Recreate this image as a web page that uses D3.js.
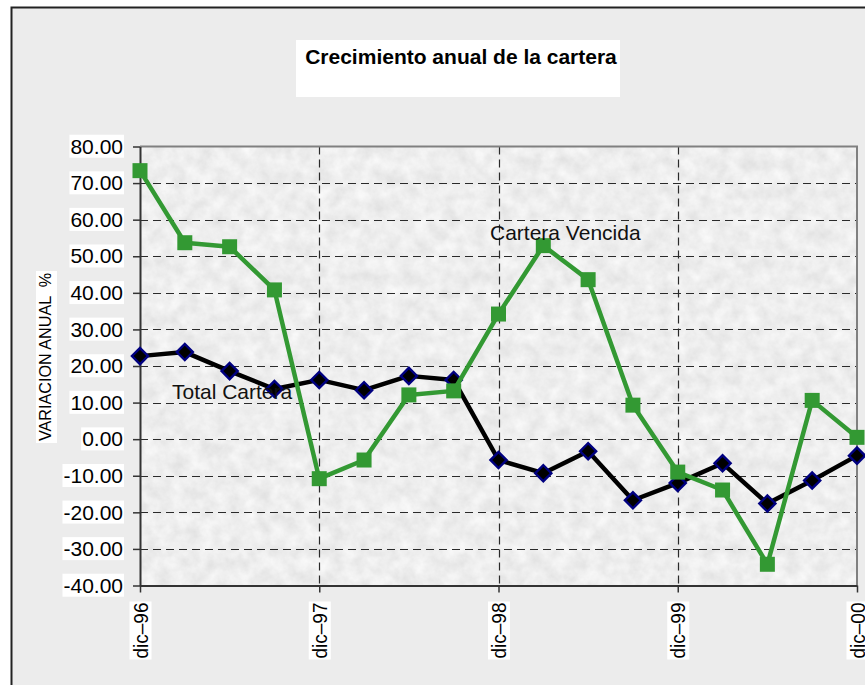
<!DOCTYPE html>
<html>
<head>
<meta charset="utf-8">
<script src="https://d3js.org/d3.v7.min.js"></script>
<style>
  body { margin: 0; background: #fff; }
  svg { display: block; font-family: "Liberation Sans", Arial, sans-serif; }
</style>
</head>
<body>
<svg width="865" height="685"></svg>
<script>
// trimestres, de dic-96 a dic-00
var periods = ["dic-96", "mar-97", "jun-97", "sep-97", "dic-97", "mar-98", "jun-98", "sep-98",
  "dic-98", "mar-99", "jun-99", "sep-99", "dic-99", "mar-00", "jun-00", "sep-00", "dic-00"];

// variacion anual %
var totalCartera = [22.7, 23.8, 18.6, 13.7, 16.2, 13.4, 17.3, 16.2, -5.7, -9.3, -3.3, -16.7, -12.0, -6.6, -17.6, -11.3, -4.5];
var carteraVencida = [73.4, 53.7, 52.6, 40.8, -10.8, -5.7, 12.1, 13.2, 34.2, 52.9, 43.6, 9.3, -9.0, -13.9, -34.2, 10.6, 0.5];

var yTicks = [80, 70, 60, 50, 40, 30, 20, 10, 0, -10, -20, -30, -40];

var seriesLabels = ["Total Cartera", "Cartera Vencida"];

// area of the plot
var plot = { left: 140, right: 857, top: 146.5, bottom: 585.5 };

var svg = d3.select("svg");

var x = d3.scaleLinear()
  .domain([0, periods.length - 1])
  .range([plot.left, plot.right]);

var y = d3.scaleLinear()
  .domain([-40, 80])
  .range([plot.bottom, plot.top]);

// marble texture for the plot background
var defs = svg.append("defs");
var filter = defs.append("filter")
  .attr("id", "marble")
  .attr("x", 0).attr("y", 0).attr("width", 1).attr("height", 1);
filter.append("feTurbulence")
  .attr("type", "fractalNoise")
  .attr("baseFrequency", 0.07)
  .attr("numOctaves", 4)
  .attr("seed", 7)
  .attr("result", "noise");
filter.append("feColorMatrix")
  .attr("in", "noise")
  .attr("type", "matrix")
  .attr("values", "0.25 0 0 0 0.73  0.25 0 0 0 0.73  0.25 0 0 0 0.73  0 0 0 0 1");

// outer frame
svg.append("rect")
  .attr("x", 11.5).attr("y", 7.5)
  .attr("width", 870).attr("height", 690)
  .attr("fill", "#ececec")
  .attr("stroke", "#222")
  .attr("stroke-width", 2);

// title
svg.append("rect")
  .attr("x", 296).attr("y", 40)
  .attr("width", 324).attr("height", 57)
  .attr("fill", "#fff");
svg.append("text")
  .attr("x", 461).attr("y", 64)
  .attr("text-anchor", "middle")
  .style("font-size", "21px")
  .style("font-weight", "bold")
  .text("Crecimiento anual de la cartera");

// plot background
svg.append("rect")
  .attr("x", plot.left).attr("y", plot.top)
  .attr("width", plot.right - plot.left)
  .attr("height", plot.bottom - plot.top)
  .attr("fill", "#dadada")
  .attr("filter", "url(#marble)");

// grid
var grid = svg.append("g")
  .attr("stroke", "#2a2a2a")
  .attr("stroke-width", 1.2)
  .attr("stroke-dasharray", "8,5");

grid.selectAll("line.h")
  .data(yTicks.filter(function (d) { return d > -40 && d < 80; }))
  .enter().append("line")
  .attr("x1", plot.left).attr("x2", plot.right)
  .attr("y1", function (d) { return Math.round(y(d)) + 0.5; })
  .attr("y2", function (d) { return Math.round(y(d)) + 0.5; });

var dicIdx = periods.map(function (p, i) { return i; })
  .filter(function (i) { return periods[i].indexOf("dic") === 0; });

grid.selectAll("line.v")
  .data(dicIdx.slice(1, -1))
  .enter().append("line")
  .attr("y1", plot.top).attr("y2", plot.bottom)
  .attr("x1", function (d) { return Math.round(x(d)) + 0.5; })
  .attr("x2", function (d) { return Math.round(x(d)) + 0.5; });

// top and right border
svg.append("path")
  .attr("d", "M" + plot.left + "," + plot.top + "H" + plot.right + "V" + plot.bottom)
  .attr("fill", "none")
  .attr("stroke", "#808080")
  .attr("stroke-width", 2);

// y axis
var yAxis = svg.append("g")
  .attr("transform", "translate(" + plot.left + ",0)")
  .call(d3.axisLeft(y)
    .tickValues(yTicks)
    .tickSize(7)
    .tickSizeOuter(0)
    .tickPadding(10)
    .tickFormat(function (d) { return d.toFixed(2); }));

yAxis.select(".domain").attr("stroke", "#333").attr("stroke-width", 2);
yAxis.selectAll(".tick line").attr("stroke", "#333").attr("stroke-width", 1.5);
yAxis.selectAll(".tick text")
  .attr("fill", "#000")
  .style("font-size", "21px")
  .style("font-family", "Liberation Sans, Arial, sans-serif");

// x axis
var xAxis = svg.append("g")
  .attr("transform", "translate(0," + plot.bottom + ")")
  .call(d3.axisBottom(x)
    .tickValues(dicIdx)
    .tickSize(7)
    .tickSizeOuter(0)
    .tickFormat(function (i) { return periods[i].replace("-", "\u2013"); }));

xAxis.select(".domain").attr("stroke", "#333").attr("stroke-width", 2);
xAxis.selectAll(".tick line").attr("stroke", "#333").attr("stroke-width", 1.5);
xAxis.selectAll(".tick text")
  .attr("fill", "#000")
  .attr("transform", "rotate(-90)")
  .attr("text-anchor", "end")
  .attr("x", -17)
  .attr("y", 0)
  .attr("dy", "0.35em")
  .attr("textLength", 56)
  .attr("lengthAdjust", "spacingAndGlyphs")
  .style("font-size", "20px")
  .style("font-family", "Liberation Sans, Arial, sans-serif");

// white boxes behind tick labels
svg.selectAll(".tick text").each(function () {
  var b = this.getBBox();
  var t = this.getAttribute("transform");
  d3.select(this.parentNode).insert("rect", "text")
    .attr("x", b.x - 1).attr("y", b.y)
    .attr("width", b.width + 2).attr("height", b.height)
    .attr("transform", t)
    .attr("fill", "#fff");
});

// y axis title
svg.append("rect")
  .attr("x", 36).attr("y", 271)
  .attr("width", 21).attr("height", 172)
  .attr("fill", "#fff");
svg.append("text")
  .attr("transform", "translate(51,357) rotate(-90)")
  .attr("text-anchor", "middle")
  .attr("textLength", 168)
  .attr("lengthAdjust", "spacingAndGlyphs")
  .style("font-size", "16px")
  .style("white-space", "pre")
  .text("VARIACION ANUAL  %");

// series
var line = d3.line()
  .x(function (d, i) { return x(i); })
  .y(function (d) { return y(d); });

svg.append("path")
  .datum(totalCartera)
  .attr("d", line)
  .attr("fill", "none")
  .attr("stroke", "#000")
  .attr("stroke-width", 4.5)
  .attr("stroke-linejoin", "round");

svg.selectAll(".diamond")
  .data(totalCartera)
  .enter().append("path")
  .attr("class", "diamond")
  .attr("d", d3.symbol().type(d3.symbolSquare).size(130))
  .attr("transform", function (d, i) { return "translate(" + x(i) + "," + y(d) + ") rotate(45)"; })
  .attr("fill", "#000")
  .attr("stroke", "#000080")
  .attr("stroke-width", 2.4);

svg.append("path")
  .datum(carteraVencida)
  .attr("d", line)
  .attr("fill", "none")
  .attr("stroke", "#339933")
  .attr("stroke-width", 4.5)
  .attr("stroke-linejoin", "round");

svg.selectAll(".square")
  .data(carteraVencida)
  .enter().append("path")
  .attr("class", "square")
  .attr("d", d3.symbol().type(d3.symbolSquare).size(225))
  .attr("transform", function (d, i) { return "translate(" + x(i) + "," + y(d) + ")"; })
  .attr("fill", "#339933");

// series labels
svg.append("text")
  .attr("x", 172).attr("y", 399)
  .style("font-size", "21px")
  .attr("fill", "#111")
  .text(seriesLabels[0]);

svg.append("text")
  .attr("x", 490).attr("y", 240)
  .style("font-size", "21px")
  .attr("fill", "#111")
  .text(seriesLabels[1]);
</script>
</body>
</html>
